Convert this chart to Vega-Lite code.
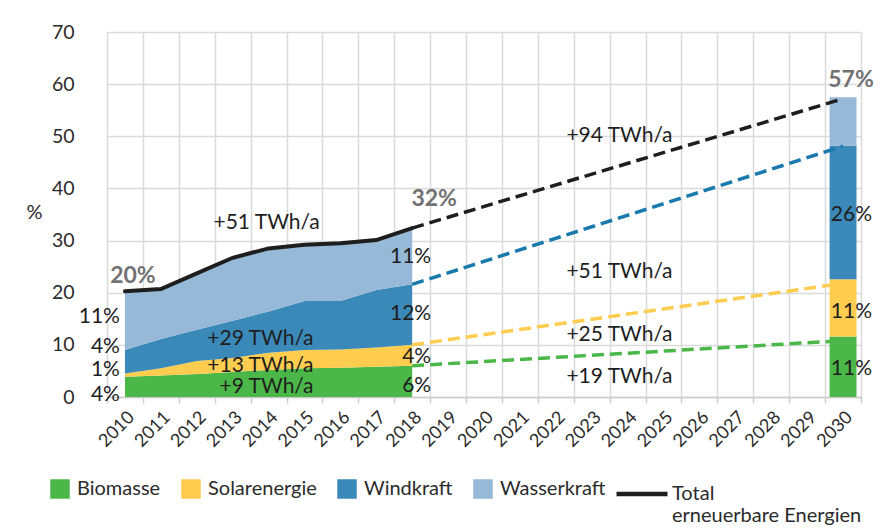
{
  "$schema": "https://vega.github.io/schema/vega-lite/v6.json",
  "width": 754,
  "height": 365,
  "autosize": {"type": "none"},
  "padding": {"left": 107, "top": 32, "right": 31, "bottom": 134},
  "background": "white",
  "config": {"font": "Lato", "view": {"stroke": null}},
  "datasets": {
    "history": [
      {"year": 2010, "source": "Biomasse", "rank": 1, "value": 3.9},
      {"year": 2011, "source": "Biomasse", "rank": 1, "value": 4.1},
      {"year": 2012, "source": "Biomasse", "rank": 1, "value": 4.4},
      {"year": 2013, "source": "Biomasse", "rank": 1, "value": 4.8},
      {"year": 2014, "source": "Biomasse", "rank": 1, "value": 5.2},
      {"year": 2015, "source": "Biomasse", "rank": 1, "value": 5.5},
      {"year": 2016, "source": "Biomasse", "rank": 1, "value": 5.6},
      {"year": 2017, "source": "Biomasse", "rank": 1, "value": 5.8},
      {"year": 2018, "source": "Biomasse", "rank": 1, "value": 6.0},
      {"year": 2010, "source": "Solarenergie", "rank": 2, "value": 0.6},
      {"year": 2011, "source": "Solarenergie", "rank": 2, "value": 1.4},
      {"year": 2012, "source": "Solarenergie", "rank": 2, "value": 2.5},
      {"year": 2013, "source": "Solarenergie", "rank": 2, "value": 2.7},
      {"year": 2014, "source": "Solarenergie", "rank": 2, "value": 3.3},
      {"year": 2015, "source": "Solarenergie", "rank": 2, "value": 3.5},
      {"year": 2016, "source": "Solarenergie", "rank": 2, "value": 3.5},
      {"year": 2017, "source": "Solarenergie", "rank": 2, "value": 3.7},
      {"year": 2018, "source": "Solarenergie", "rank": 2, "value": 4.0},
      {"year": 2010, "source": "Windkraft", "rank": 3, "value": 4.5},
      {"year": 2011, "source": "Windkraft", "rank": 3, "value": 5.6},
      {"year": 2012, "source": "Windkraft", "rank": 3, "value": 6.0},
      {"year": 2013, "source": "Windkraft", "rank": 3, "value": 7.1},
      {"year": 2014, "source": "Windkraft", "rank": 3, "value": 7.9},
      {"year": 2015, "source": "Windkraft", "rank": 3, "value": 9.4},
      {"year": 2016, "source": "Windkraft", "rank": 3, "value": 9.3},
      {"year": 2017, "source": "Windkraft", "rank": 3, "value": 11.0},
      {"year": 2018, "source": "Windkraft", "rank": 3, "value": 11.6},
      {"year": 2010, "source": "Wasserkraft", "rank": 4, "value": 11.3},
      {"year": 2011, "source": "Wasserkraft", "rank": 4, "value": 9.6},
      {"year": 2012, "source": "Wasserkraft", "rank": 4, "value": 10.8},
      {"year": 2013, "source": "Wasserkraft", "rank": 4, "value": 12.1},
      {"year": 2014, "source": "Wasserkraft", "rank": 4, "value": 12.1},
      {"year": 2015, "source": "Wasserkraft", "rank": 4, "value": 10.8},
      {"year": 2016, "source": "Wasserkraft", "rank": 4, "value": 11.1},
      {"year": 2017, "source": "Wasserkraft", "rank": 4, "value": 9.6},
      {"year": 2018, "source": "Wasserkraft", "rank": 4, "value": 10.8}
    ],
    "target": [
      {"year": 2030, "source": "Biomasse", "rank": 1, "value": 11.6},
      {"year": 2030, "source": "Solarenergie", "rank": 2, "value": 11.0},
      {"year": 2030, "source": "Windkraft", "rank": 3, "value": 25.6},
      {"year": 2030, "source": "Wasserkraft", "rank": 4, "value": 9.3}
    ],
    "total": [
      {"year": 2010, "series": "Total", "value": 20.3},
      {"year": 2011, "series": "Total", "value": 20.7},
      {"year": 2012, "series": "Total", "value": 23.7},
      {"year": 2013, "series": "Total", "value": 26.7},
      {"year": 2014, "series": "Total", "value": 28.5},
      {"year": 2015, "series": "Total", "value": 29.2},
      {"year": 2016, "series": "Total", "value": 29.5},
      {"year": 2017, "series": "Total", "value": 30.1},
      {"year": 2018, "series": "Total", "value": 32.4}
    ],
    "paths": [
      {"year": 2018, "series": "Total", "value": 32.4},
      {"year": 2030, "series": "Total", "value": 57.2},
      {"year": 2018, "series": "Windkraft", "value": 21.6},
      {"year": 2030, "series": "Windkraft", "value": 48.1},
      {"year": 2018, "series": "Solarenergie", "value": 10.0},
      {"year": 2030, "series": "Solarenergie", "value": 21.8},
      {"year": 2018, "series": "Biomasse", "value": 6.0},
      {"year": 2030, "series": "Biomasse", "value": 10.8}
    ]
  },
  "layer": [
    {
      "data": {"name": "history"},
      "mark": {"type": "area", "opacity": 1},
      "encoding": {
        "x": {
          "field": "year", "type": "ordinal", "bandPosition": 0.5,
          "scale": {"type": "band", "domain": [2010,2011,2012,2013,2014,2015,2016,2017,2018,2019,2020,2021,2022,2023,2024,2025,2026,2027,2028,2029,2030], "paddingInner": 0, "paddingOuter": 0},
          "axis": {"title": null, "tickBand": "extent", "grid": true, "gridColor": "#dadada", "gridWidth": 1.5, "domainColor": "#cccccc", "domainWidth": 1.5, "tickColor": "#cccccc", "tickWidth": 1.5, "tickSize": 6, "labelAngle": -45, "labelFontSize": 18, "labelColor": "#2b2b2b", "labelPadding": 5}
        },
        "y": {
          "field": "value", "type": "quantitative", "stack": "zero",
          "scale": {"domain": [0, 70], "nice": false},
          "axis": {"values": [0,10,20,30,40,50,60,70], "grid": true, "gridColor": "#dadada", "gridWidth": 1.5, "domain": false, "ticks": false, "labelPadding": 33, "labelFontSize": 19.5, "labelColor": "#2b2b2b", "title": "%", "titleAngle": 0, "titleX": -73, "titleY": 180, "titleAlign": "center", "titleBaseline": "middle", "titleFontSize": 20, "titleFontWeight": "normal", "titleColor": "#2b2b2b"}
        },
        "color": {
          "field": "source", "type": "nominal",
          "scale": {"domain": ["Biomasse", "Solarenergie", "Windkraft", "Wasserkraft"], "range": ["#4cb749", "#fecc4e", "#3a89b8", "#95b9d6"]},
          "legend": {"orient": "none", "legendX": -57, "legendY": 447, "direction": "horizontal", "columns": 4, "title": null, "symbolType": "square", "symbolSize": 380, "symbolStrokeWidth": 0, "symbolOpacity": 1, "labelFontSize": 20, "labelColor": "#2b2b2b", "labelOffset": 7, "labelLimit": 0, "columnPadding": 20, "padding": 0}
        },
        "order": {"field": "rank", "type": "quantitative"}
      }
    },
    {
      "data": {"name": "target"},
      "mark": {"type": "bar", "width": {"band": 0.75}},
      "encoding": {
        "x": {"field": "year", "type": "ordinal"},
        "y": {"field": "value", "type": "quantitative", "stack": "zero"},
        "color": {"field": "source", "type": "nominal"},
        "order": {"field": "rank", "type": "quantitative"}
      }
    },
    {
      "data": {"name": "total"},
      "mark": {"type": "line", "strokeWidth": 4, "strokeCap": "round"},
      "encoding": {
        "x": {"field": "year", "type": "ordinal", "bandPosition": 0.5},
        "y": {"field": "value", "type": "quantitative"},
        "stroke": {
          "field": "series", "type": "nominal",
          "scale": {"domain": ["Total", "Windkraft", "Solarenergie", "Biomasse"], "range": ["#1e1e1e", "#1a7aae", "#fecc4e", "#4cb749"]},
          "legend": {"values": ["Total"], "orient": "none", "legendX": 507, "legendY": 434, "title": null, "symbolType": "stroke", "symbolSize": 2601, "symbolStrokeWidth": 4.5, "labelExpr": "['Total', 'erneuerbare Energien']", "labelFontSize": 20, "labelColor": "#2b2b2b", "labelOffset": 2, "labelLimit": 0, "padding": 0}
        }
      }
    },
    {
      "data": {"name": "paths"},
      "mark": {"type": "line", "strokeWidth": 3.5, "strokeDash": [12, 6]},
      "encoding": {
        "x": {"field": "year", "type": "ordinal", "bandPosition": 0.5},
        "y": {"field": "value", "type": "quantitative"},
        "stroke": {"field": "series", "type": "nominal"}
      }
    },
    {
      "data": {"values": [{"year": 2010, "value": 23.2, "label": "20%"}, {"year": 2030, "value": 60.7, "label": "57%"}]},
      "mark": {"type": "text", "align": "center", "baseline": "middle", "dx": 8, "fontSize": 23, "fontWeight": "bold", "color": "#727272"},
      "encoding": {
        "x": {"field": "year", "type": "ordinal", "bandPosition": 0.5},
        "y": {"field": "value", "type": "quantitative"},
        "text": {"field": "label"}
      }
    },
    {
      "data": {"values": [{"year": 2018, "value": 38.0, "label": "32%"}]},
      "mark": {"type": "text", "align": "center", "baseline": "middle", "dx": 22, "fontSize": 23, "fontWeight": "bold", "color": "#727272"},
      "encoding": {
        "x": {"field": "year", "type": "ordinal", "bandPosition": 0.5},
        "y": {"field": "value", "type": "quantitative"},
        "text": {"field": "label"}
      }
    },
    {
      "data": {"values": [{"year": 2014, "value": 33.4, "label": "+51 TWh/a"}]},
      "mark": {"type": "text", "align": "center", "baseline": "middle", "dx": -2, "fontSize": 21, "color": "#1e1e1e"},
      "encoding": {
        "x": {"field": "year", "type": "ordinal", "bandPosition": 0.5},
        "y": {"field": "value", "type": "quantitative"},
        "text": {"field": "label"}
      }
    },
    {
      "data": {"values": [
        {"year": 2015, "value": 11.1, "label": "+29 TWh/a"},
        {"year": 2015, "value": 6.0, "label": "+13 TWh/a"},
        {"year": 2015, "value": 1.85, "label": "+9 TWh/a"},
        {"year": 2025, "value": 50.1, "label": "+94 TWh/a"},
        {"year": 2025, "value": 23.9, "label": "+51 TWh/a"},
        {"year": 2025, "value": 11.8, "label": "+25 TWh/a"},
        {"year": 2025, "value": 3.8, "label": "+19 TWh/a"}
      ]},
      "mark": {"type": "text", "align": "right", "baseline": "middle", "dx": 9, "fontSize": 21, "color": "#1e1e1e"},
      "encoding": {
        "x": {"field": "year", "type": "ordinal", "bandPosition": 0.5},
        "y": {"field": "value", "type": "quantitative"},
        "text": {"field": "label"}
      }
    },
    {
      "data": {"values": [
        {"year": 2010, "value": 15.3, "label": "11%"},
        {"year": 2010, "value": 9.6, "label": "4%"},
        {"year": 2010, "value": 5.2, "label": "1%"},
        {"year": 2010, "value": 0.3, "label": "4%"}
      ]},
      "mark": {"type": "text", "align": "right", "baseline": "middle", "dx": -5, "fontSize": 21, "color": "#1e1e1e"},
      "encoding": {
        "x": {"field": "year", "type": "ordinal", "bandPosition": 0.5},
        "y": {"field": "value", "type": "quantitative"},
        "text": {"field": "label"}
      }
    },
    {
      "data": {"values": [
        {"year": 2018, "value": 26.9, "label": "11%"},
        {"year": 2018, "value": 15.9, "label": "12%"},
        {"year": 2018, "value": 7.7, "label": "4%"},
        {"year": 2018, "value": 2.1, "label": "6%"}
      ]},
      "mark": {"type": "text", "align": "right", "baseline": "middle", "dx": 19, "fontSize": 21, "color": "#1e1e1e"},
      "encoding": {
        "x": {"field": "year", "type": "ordinal", "bandPosition": 0.5},
        "y": {"field": "value", "type": "quantitative"},
        "text": {"field": "label"}
      }
    },
    {
      "data": {"values": [
        {"year": 2030, "value": 34.9, "label": "26%"},
        {"year": 2030, "value": 16.3, "label": "11%"},
        {"year": 2030, "value": 5.3, "label": "11%"}
      ]},
      "mark": {"type": "text", "align": "right", "baseline": "middle", "dx": 29, "fontSize": 21, "color": "#1e1e1e"},
      "encoding": {
        "x": {"field": "year", "type": "ordinal", "bandPosition": 0.5},
        "y": {"field": "value", "type": "quantitative"},
        "text": {"field": "label"}
      }
    }
  ]
}
